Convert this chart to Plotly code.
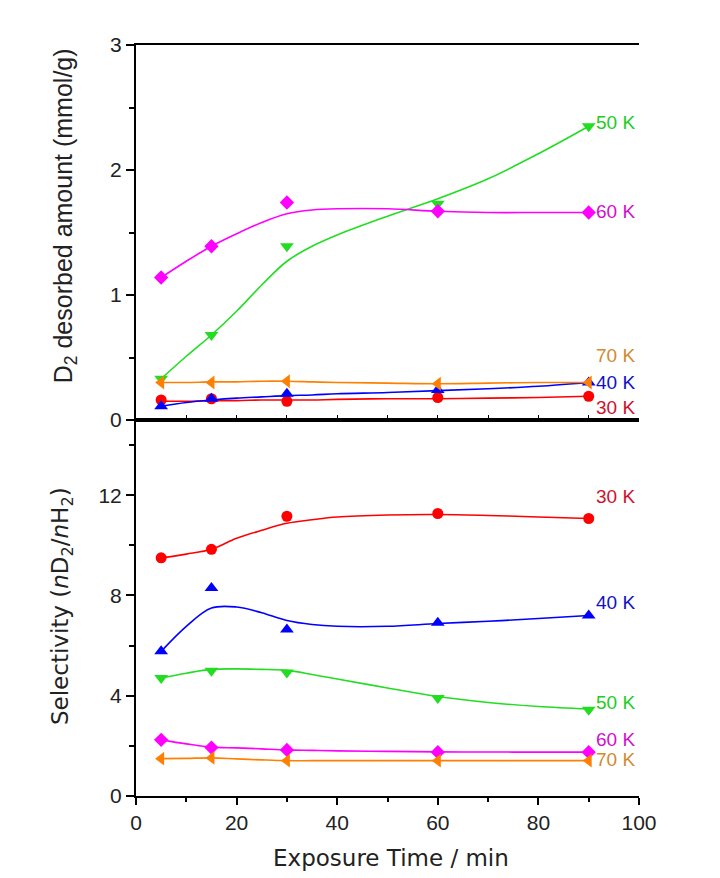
import plotly.graph_objects as go

# ---------------- data ----------------
time_min = [5, 15, 30, 60, 90]
temps = ["30 K", "40 K", "50 K", "60 K", "70 K"]
colors = ["#ff0000", "#0000ff", "#22dd22", "#ff00ff", "#ff8000"]
label_colors = ["#d0102a", "#1010c8", "#22cc22", "#d010d0", "#d08a30"]
symbols = ["circle", "triangle-up", "triangle-down", "diamond", "triangle-left"]
marker_sizes = [11, 12, 12, 11, 12]

# D2 desorbed amount (mmol/g)
d2_30 = [0.16, 0.17, 0.15, 0.18, 0.19]
d2_40 = [0.11, 0.17, 0.21, 0.24, 0.30]
d2_50 = [0.33, 0.68, 1.39, 1.73, 2.35]
d2_60 = [1.14, 1.39, 1.74, 1.67, 1.66]
d2_70 = [0.30, 0.30, 0.31, 0.29, 0.30]

# fitted curves
fit_x = [5, 10, 15, 20, 25, 30, 35, 40, 50, 60, 70, 80, 90]
d2fit_30 = [0.15, 0.15, 0.155, 0.155, 0.16, 0.16, 0.16, 0.165, 0.17, 0.17, 0.175, 0.18, 0.19]
d2fit_40 = [0.11, 0.14, 0.16, 0.175, 0.185, 0.195, 0.20, 0.21, 0.22, 0.235, 0.25, 0.27, 0.30]
d2fit_50 = [0.33, 0.51, 0.68, 0.87, 1.08, 1.27, 1.39, 1.48, 1.63, 1.77, 1.93, 2.13, 2.35]
d2fit_60 = [1.14, 1.27, 1.39, 1.49, 1.58, 1.65, 1.68, 1.69, 1.69, 1.67, 1.66, 1.66, 1.66]
d2fit_70 = [0.30, 0.30, 0.305, 0.305, 0.31, 0.31, 0.305, 0.30, 0.295, 0.29, 0.295, 0.30, 0.30]

# Selectivity nD2/nH2
sel_30 = [9.5, 9.84, 11.16, 11.27, 11.07]
sel_40 = [5.77, 8.3, 6.64, 6.91, 7.2]
sel_50 = [4.71, 5.0, 4.93, 3.91, 3.44]
sel_60 = [2.24, 1.93, 1.84, 1.75, 1.75]
sel_70 = [1.49, 1.52, 1.41, 1.41, 1.41]

selfit_30 = [9.5, 9.65, 9.84, 10.28, 10.6, 10.88, 11.02, 11.13, 11.21, 11.23, 11.19, 11.13, 11.07]
selfit_40 = [5.77, 6.77, 7.5, 7.54, 7.31, 7.0, 6.84, 6.77, 6.77, 6.88, 6.97, 7.08, 7.2]
selfit_50 = [4.71, 4.9, 5.05, 5.07, 5.05, 5.01, 4.85, 4.67, 4.31, 3.97, 3.73, 3.57, 3.47]
selfit_60 = [2.24, 2.08, 1.95, 1.92, 1.88, 1.84, 1.82, 1.80, 1.78, 1.76, 1.755, 1.75, 1.75]
selfit_70 = [1.49, 1.50, 1.52, 1.48, 1.44, 1.41, 1.41, 1.41, 1.41, 1.41, 1.41, 1.41, 1.41]

# label positions (value units)
label_x = 91
top_label_y = [0.10, 0.30, 2.38, 1.67, 0.52]
bot_label_y = [11.93, 7.73, 3.73, 2.24, 1.47]

d2_pts = [d2_30, d2_40, d2_50, d2_60, d2_70]
d2_fits = [d2fit_30, d2fit_40, d2fit_50, d2fit_60, d2fit_70]
sel_pts = [sel_30, sel_40, sel_50, sel_60, sel_70]
sel_fits = [selfit_30, selfit_40, selfit_50, selfit_60, selfit_70]

FONT = "Liberation Sans, Arial, sans-serif"
WIDE = "DejaVu Sans, Liberation Sans, sans-serif"

fig = go.Figure()

for i in range(5):
    # top panel
    fig.add_trace(go.Scatter(x=fit_x, y=d2_fits[i], mode="lines", line=dict(color=colors[i], width=1.6, shape="spline"),
                             xaxis="x2", yaxis="y2", showlegend=False, hoverinfo="skip"))
    fig.add_trace(go.Scatter(x=time_min, y=d2_pts[i], mode="markers",
                             marker=dict(symbol=symbols[i], color=colors[i], size=marker_sizes[i], line=dict(width=0)),
                             xaxis="x2", yaxis="y2", showlegend=False, name=temps[i]))
    # bottom panel
    fig.add_trace(go.Scatter(x=fit_x, y=sel_fits[i], mode="lines", line=dict(color=colors[i], width=1.6, shape="spline"),
                             xaxis="x", yaxis="y", showlegend=False, hoverinfo="skip"))
    fig.add_trace(go.Scatter(x=time_min, y=sel_pts[i], mode="markers",
                             marker=dict(symbol=symbols[i], color=colors[i], size=marker_sizes[i], line=dict(width=0)),
                             xaxis="x", yaxis="y", showlegend=False, name=temps[i]))

annotations = []
for i in range(5):
    annotations.append(dict(x=label_x, y=top_label_y[i], xref="x2", yref="y2", text=temps[i], showarrow=False,
                            xanchor="left", yanchor="middle", font=dict(family=FONT, size=19, color=label_colors[i])))
    annotations.append(dict(x=label_x, y=bot_label_y[i], xref="x", yref="y", text=temps[i], showarrow=False,
                            xanchor="left", yanchor="middle", font=dict(family=FONT, size=19, color=label_colors[i])))

annotations.append(dict(x=-0.141, y=0.772, xref="paper", yref="paper", text="D<sub>2</sub> desorbed amount (mmol/g)",
                        textangle=-90, showarrow=False, xanchor="center", yanchor="middle",
                        font=dict(family=FONT, size=25, color="#222")))
annotations.append(dict(x=-0.147, y=0.253, xref="paper", yref="paper",
                        text="Selectivity (<i>n</i>D<sub>2</sub>/<i>n</i>H<sub>2</sub>)",
                        textangle=-90, showarrow=False, xanchor="center", yanchor="middle",
                        font=dict(family=WIDE, size=23, color="#222")))
annotations.append(dict(x=0.507, y=-0.083, xref="paper", yref="paper", text="Exposure Time / min",
                        showarrow=False, xanchor="center", yanchor="middle",
                        font=dict(family=WIDE, size=23, color="#222")))

split = 376 / 751

axis_common = dict(showgrid=False, zeroline=False, showline=True, linecolor="black", linewidth=2,
                   tickcolor="black", tickfont=dict(family=FONT, size=21, color="#222"))

fig.update_layout(
    width=720, height=878,
    margin=dict(l=128, r=89, t=37, b=90),
    paper_bgcolor="white", plot_bgcolor="white",
    annotations=annotations,
    # bottom panel
    xaxis=dict(domain=[0, 1], anchor="y", range=[0, 100], dtick=20, ticks="outside", ticklen=7, tickwidth=1.5,
               minor=dict(dtick=10, ticks="outside", ticklen=4, tickcolor="black"), mirror=True, **axis_common),
    yaxis=dict(domain=[0, split], anchor="x", range=[0, 15], tickvals=[0, 4, 8, 12], ticks="outside", ticklen=8,
               tickwidth=1.5, minor=dict(tickvals=[2, 6, 10, 14], ticks="outside", ticklen=5, tickcolor="black"),
               **axis_common),
    yaxis3=dict(overlaying="y", anchor="x", side="right", range=[0, 15], dtick=1, ticks="inside", ticklen=3,
                showticklabels=False, **axis_common),
    # top panel
    xaxis2=dict(domain=[0, 1], anchor="y2", range=[0, 100], dtick=10, ticks="inside", ticklen=5, tickwidth=1.2,
                showticklabels=False, mirror=True, **axis_common),
    yaxis2=dict(domain=[split, 1], anchor="x2", range=[0, 3], dtick=1, ticks="outside", ticklen=8, tickwidth=1.5,
                minor=dict(dtick=0.5, ticks="outside", ticklen=5, tickcolor="black"), **axis_common),
    yaxis4=dict(overlaying="y2", anchor="x2", side="right", range=[0, 3], dtick=0.25, ticks="inside", ticklen=3,
                showticklabels=False, **axis_common),
)

fig.write_html("out.html")
